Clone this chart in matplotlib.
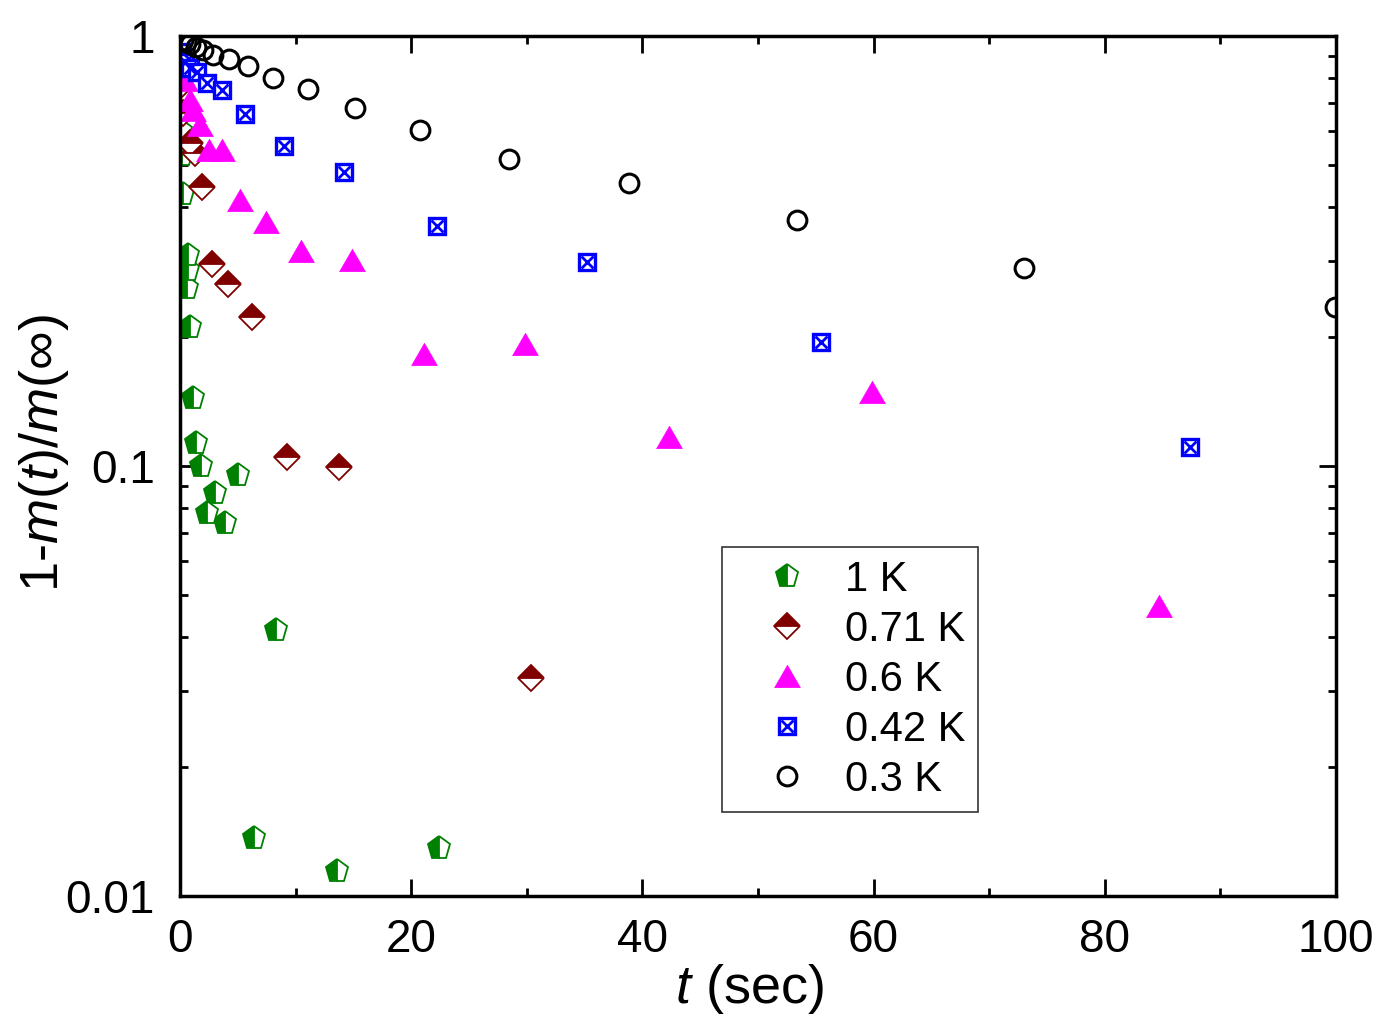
import matplotlib
matplotlib.use('Agg')
import matplotlib.pyplot as plt
from matplotlib.ticker import FixedLocator, FixedFormatter, LogLocator, NullFormatter, MultipleLocator

plt.rcParams['font.family'] = ['Liberation Sans', 'DejaVu Sans']
plt.rcParams['mathtext.fontset'] = 'custom'
plt.rcParams['mathtext.rm'] = 'Liberation Sans'
plt.rcParams['mathtext.it'] = 'Liberation Sans:italic'

# donnees : t (sec) et 1-m(t)/m(inf)
t_1K = [0.1, 0.2, 0.3, 0.61, 0.69, 0.69, 0.87, 1.12, 1.38, 1.82, 2.34, 3.03, 3.89, 5.02, 6.4, 8.3, 13.58, 22.4]
y_1K = [0.60, 0.53, 0.43, 0.259, 0.2856, 0.3095, 0.2105, 0.1439, 0.1131, 0.100, 0.0777, 0.0866, 0.0737, 0.0953,
        0.01364, 0.0416, 0.01143, 0.01293]

t_071K = [0.1, 0.26, 0.87, 1.3, 1.9, 2.77, 4.15, 6.23, 9.26, 13.75, 30.36]
y_071K = [0.769, 0.662, 0.564, 0.535, 0.4455, 0.295, 0.265, 0.222, 0.105, 0.0995, 0.0321]

t_06K = [0.17, 0.43, 0.87, 1.12, 1.73, 2.5, 3.63, 5.19, 7.44, 10.47, 14.88, 21.1, 29.84, 42.3, 59.86, 84.69]
y_06K = [0.856, 0.79, 0.71, 0.673, 0.621, 0.543, 0.543, 0.4156, 0.369, 0.316, 0.301, 0.182, 0.192, 0.1168,
         0.1486, 0.0473]

t_042K = [0.17, 0.43, 0.87, 1.47, 2.34, 3.63, 5.62, 9.0, 14.19, 22.23, 35.2, 55.45, 87.37]
y_042K = [0.918, 0.870, 0.843, 0.825, 0.778, 0.749, 0.659, 0.555, 0.483, 0.361, 0.298, 0.194, 0.1107]

t_03K = [0.26, 0.52, 0.87, 1.38, 2.0, 2.85, 4.24, 5.88, 8.04, 11.07, 15.14, 20.76, 28.46, 38.84, 53.37, 73.0, 99.9]
y_03K = [0.979, 0.968, 0.958, 0.943, 0.928, 0.903, 0.884, 0.852, 0.799, 0.753, 0.680, 0.604, 0.518, 0.455,
         0.373, 0.289, 0.234]

labels = ['1 K', '0.71 K', '0.6 K', '0.42 K', '0.3 K']
y_ticks = [0.01, 0.1, 1]
y_ticklabels = ['0.01', '0.1', '1']

fig = plt.figure(figsize=(13.84, 10.21), dpi=100)
ax = fig.add_axes([0.130, 0.1224, 0.8353, 0.8423])

# triangle equilateral
tri = [(-1, -0.866), (1, -0.866), (0, 0.866), (-1, -0.866)]

h1, = ax.plot(t_1K, y_1K, ls='none', marker='p', ms=17, fillstyle='left', mfc='#008000',
              mfcalt='white', mec='#008000', mew=1.3)
h2, = ax.plot(t_071K, y_071K, ls='none', marker='D', ms=13.5, fillstyle='top', mfc='#800000',
              mfcalt='white', mec='#800000', mew=1.3)
h3, = ax.plot(t_06K, y_06K, ls='none', marker=tri, ms=18.5, mfc='#FF00FF', mec='#FF00FF', mew=0.5)
h4a, = ax.plot(t_042K, y_042K, ls='none', marker='s', ms=11.5, mfc='white', mec='#0000FF', mew=2.4)
h4b, = ax.plot(t_042K, y_042K, ls='none', marker='x', ms=8.5, mec='#0000FF', mew=2)
h5, = ax.plot(t_03K, y_03K, ls='none', marker='o', ms=13.5, mfc='none', mec='black', mew=2.2)

ax.set_yscale('log')
ax.set_xlim(0, 100)
ax.set_ylim(0.01, 1)

ax.xaxis.set_major_locator(MultipleLocator(20))
ax.xaxis.set_minor_locator(MultipleLocator(10))
ax.yaxis.set_major_locator(FixedLocator(y_ticks))
ax.yaxis.set_major_formatter(FixedFormatter(y_ticklabels))
ax.yaxis.set_minor_locator(LogLocator(base=10, subs=range(2, 10)))
ax.yaxis.set_minor_formatter(NullFormatter())

ax.tick_params(which='both', direction='in', top=True, right=True, width=2)
ax.tick_params(which='major', length=12, labelsize=33)
ax.tick_params(axis='x', which='major', pad=16)
ax.tick_params(axis='y', which='major', pad=18)
ax.tick_params(which='minor', length=6)
for sp in ax.spines.values():
    sp.set_linewidth(2.5)

ax.set_xlabel('$t$ (sec)', fontsize=39, labelpad=0)
ax.set_ylabel('1-$m$($t$)/$m$(\u221e)', fontsize=39, labelpad=-4)
ax.xaxis.label.set_x(0.493)
ax.yaxis.label.set_y(0.515)

leg = ax.legend([h1, h2, h3, (h4a, h4b), h5], labels, loc='lower left',
                bbox_to_anchor=(0.469, 0.0977), borderaxespad=0, fontsize=30,
                frameon=True, fancybox=False, edgecolor='black', handlelength=2.5,
                handletextpad=0.15, labelspacing=0.24, borderpad=0.3)
leg.get_frame().set_linewidth(1.2)

fig.savefig('out.png', dpi=100)
